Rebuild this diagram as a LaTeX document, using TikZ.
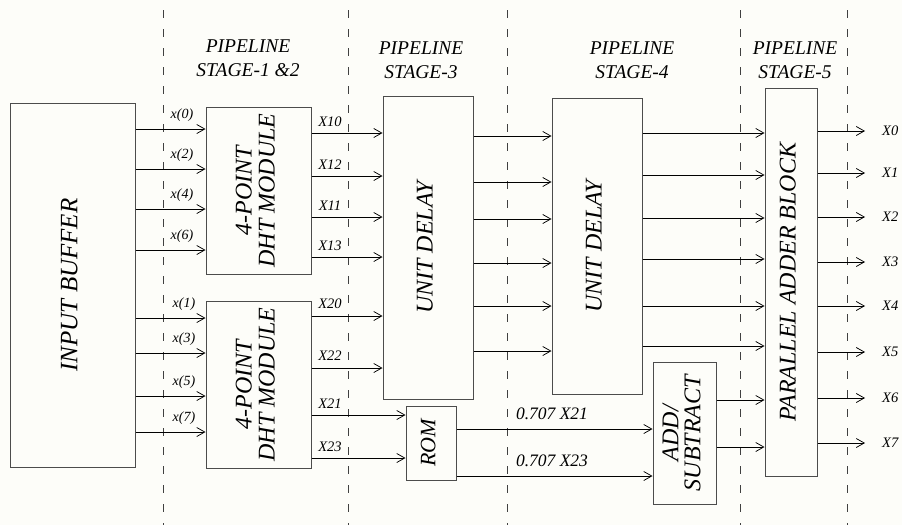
\documentclass[tikz,border=0pt]{standalone}
\usepackage{fontspec}
\setmainfont{Liberation Serif}
\newfontfamily\tnr{Liberation Serif}
\usepackage{graphicx}
\usepackage{xcolor}
\usetikzlibrary{arrows.meta}
\definecolor{paper}{RGB}{253,253,249}
\newcommand{\vlabel}[1]{\rotatebox{90}{\begin{tabular}{@{}c@{}}#1\end{tabular}}}

\begin{document}
\begin{tikzpicture}[x=1pt,y=-1pt,
  blk/.style={draw=black!70,line width=1pt,inner sep=0pt,
              font=\tnr\itshape\fontsize{24}{23}\selectfont},
  arr/.style={-{Straight Barb[length=8pt,width=9pt]},line width=0.75pt},
  sig/.style={font=\tnr\itshape\fontsize{14.5}{16}\selectfont,inner sep=0pt},
  stg/.style={align=center,font=\tnr\itshape\fontsize{19.5}{24}\selectfont},
  sep/.style={black!75,line width=0.8pt,dash pattern=on 8pt off 11pt}]
\fill[paper] (0,0) rectangle (902,525);
\useasboundingbox (0,0) rectangle (902,525);
% pipeline boundaries
\foreach \x in {163,348,507,740,847}{\draw[sep] (\x,10)--(\x,525);}
\node[stg] (s12) at (248,58) {PIPELINE\\STAGE-1 \&2};
\node[stg] (s3) at (421,60) {PIPELINE\\STAGE-3};
\node[stg] (s4) at (632,60) {PIPELINE\\STAGE-4};
\node[stg] (s5) at (795,60) {PIPELINE\\STAGE-5};
% blocks
\node[blk,minimum width=125pt,minimum height=364pt,font=\tnr\itshape\fontsize{25}{24}\selectfont]
  (buffer) at (72.5,285) {\vlabel{INPUT BUFFER}};
\node[blk,minimum width=105pt,minimum height=167pt] (dhta) at (258.5,190.5) {\vlabel{4-POINT\\DHT MODULE}};
\node[blk,minimum width=105pt,minimum height=167pt] (dhtb) at (258.5,384.5) {\vlabel{4-POINT\\DHT MODULE}};
\node[blk,minimum width=90pt,minimum height=303pt] (uda) at (428,247.5) {\vlabel{UNIT DELAY}};
\node[blk,minimum width=90pt,minimum height=296pt] (udb) at (597,246) {\vlabel{UNIT DELAY}};
\node[blk,minimum width=50pt,minimum height=74pt,font=\tnr\itshape\fontsize{22}{22}\selectfont]
  (rom) at (431,443) {\vlabel{ROM}};
\node[blk,minimum width=63pt,minimum height=142pt,font=\tnr\itshape\fontsize{24}{20}\selectfont]
  (addsub) at (684.5,433) {\vlabel{ADD/\\SUBTRACT}};
\node[blk,minimum width=52pt,minimum height=388pt] (pab) at (791,282) {\vlabel{PARALLEL ADDER BLOCK}};
% inputs
\foreach \y/\t in {129/0,169/2,209/4,250/6}{
  \draw[arr] (buffer.east|-0,\y)--(dhta.west|-0,\y);
  \node[sig,font=\tnr\itshape\fontsize{14}{16}\selectfont] at (182,\y-14) {x(\t)};}
\foreach \y/\t in {318/1,353/3,396/5,432/7}{
  \draw[arr] (buffer.east|-0,\y)--(dhtb.west|-0,\y);
  \node[sig,font=\tnr\itshape\fontsize{14}{16}\selectfont] at (184,\y-14) {x(\t)};}
% DHT outputs
\foreach \y/\t in {133/10,176/12,217/11,257/13}{
  \draw[arr] (dhta.east|-0,\y)--(uda.west|-0,\y);
  \node[sig] at (330,\y-11) {X\t};}
\foreach \y/\t in {316/20,368/22}{
  \draw[arr] (dhtb.east|-0,\y)--(uda.west|-0,\y);
  \node[sig] at (330,\y-12) {X\t};}
\foreach \y/\t in {415/21,458/23}{
  \draw[arr] (dhtb.east|-0,\y)--(rom.west|-0,\y);
  \node[sig] at (330,\y-11) {X\t};}
% delays
\foreach \y in {136,182,219,263,306,351}{\draw[arr] (uda.east|-0,\y)--(udb.west|-0,\y);}
\foreach \y in {133,175,218,259,306,346}{\draw[arr] (udb.east|-0,\y)--(pab.west|-0,\y);}
% ROM and add/subtract
\foreach \y/\t in {429/21,476/23}{
  \draw[arr] (rom.east|-0,\y)--(addsub.west|-0,\y);
  \node[sig,font=\tnr\itshape\fontsize{17.5}{19}\selectfont] at (552,\y-15) {0.707 X\t};}
\foreach \y in {400,447}{\draw[arr] (addsub.east|-0,\y)--(pab.west|-0,\y);}
% outputs
\foreach \y [count=\i from 0] in {131,173,217,262,306,352,398,443}{
  \node[sig,anchor=west] (o\i) at (882,\y) {X\i};
  \draw[arr,shorten >=17pt] (pab.east|-0,\y)--(o\i.west);}
\end{tikzpicture}
\end{document}
